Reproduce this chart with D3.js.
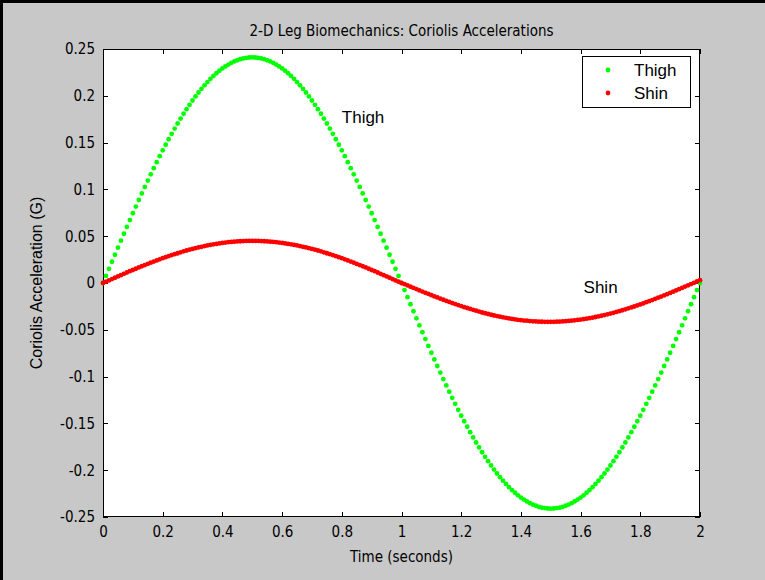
<!DOCTYPE html>
<html><head><meta charset="utf-8">
<script src="https://cdn.jsdelivr.net/npm/d3@7"></script>
<style>
html,body{margin:0;padding:0;background:#c8c8c8;}
svg{display:block;}
</style></head>
<body>
<script>
// ---- data ----
const timeStep = 0.01; // seconds between samples
const thigh = [
0,0.0076,0.0151,0.0227,0.0302,0.0377,0.0452,0.0526,0.0599,0.0672,0.0745,0.0816,0.0887,0.0957,0.1026,0.1094,0.1161,0.1227,0.1291,0.1355,
0.1417,0.1477,0.1536,0.1594,0.1650,0.1704,0.1757,0.1808,0.1857,0.1904,0.1950,0.1993,0.2035,0.2074,0.2112,0.2147,0.2181,0.2212,0.2241,0.2268,
0.2292,0.2314,0.2334,0.2352,0.2367,0.2380,0.2391,0.2399,0.2405,0.2409,0.2410,0.2409,0.2405,0.2399,0.2391,0.2380,0.2367,0.2352,0.2334,0.2314,
0.2292,0.2268,0.2241,0.2212,0.2181,0.2147,0.2112,0.2074,0.2035,0.1993,0.1950,0.1904,0.1857,0.1808,0.1757,0.1704,0.1650,0.1594,0.1536,0.1477,
0.1417,0.1355,0.1291,0.1227,0.1161,0.1094,0.1026,0.0957,0.0887,0.0816,0.0745,0.0672,0.0599,0.0526,0.0452,0.0377,0.0302,0.0227,0.0151,0.0076,
0,-0.0076,-0.0151,-0.0227,-0.0302,-0.0377,-0.0452,-0.0526,-0.0599,-0.0672,-0.0745,-0.0816,-0.0887,-0.0957,-0.1026,-0.1094,-0.1161,-0.1227,-0.1291,-0.1355,
-0.1417,-0.1477,-0.1536,-0.1594,-0.1650,-0.1704,-0.1757,-0.1808,-0.1857,-0.1904,-0.1950,-0.1993,-0.2035,-0.2074,-0.2112,-0.2147,-0.2181,-0.2212,-0.2241,-0.2268,
-0.2292,-0.2314,-0.2334,-0.2352,-0.2367,-0.2380,-0.2391,-0.2399,-0.2405,-0.2409,-0.2410,-0.2409,-0.2405,-0.2399,-0.2391,-0.2380,-0.2367,-0.2352,-0.2334,-0.2314,
-0.2292,-0.2268,-0.2241,-0.2212,-0.2181,-0.2147,-0.2112,-0.2074,-0.2035,-0.1993,-0.1950,-0.1904,-0.1857,-0.1808,-0.1757,-0.1704,-0.1650,-0.1594,-0.1536,-0.1477,
-0.1417,-0.1355,-0.1291,-0.1227,-0.1161,-0.1094,-0.1026,-0.0957,-0.0887,-0.0816,-0.0745,-0.0672,-0.0599,-0.0526,-0.0452,-0.0377,-0.0302,-0.0227,-0.0151,-0.0076,
0];
const shin = [
0,0.0014,0.0028,0.0042,0.0056,0.0070,0.0084,0.0098,0.0112,0.0126,0.0139,0.0152,0.0166,0.0179,0.0192,0.0204,0.0217,0.0229,0.0241,0.0253,
0.0265,0.0276,0.0287,0.0298,0.0308,0.0318,0.0328,0.0338,0.0347,0.0356,0.0364,0.0372,0.0380,0.0387,0.0394,0.0401,0.0407,0.0413,0.0418,0.0423,
0.0428,0.0432,0.0436,0.0439,0.0442,0.0444,0.0446,0.0448,0.0449,0.0450,0.0450,0.0450,0.0449,0.0448,0.0446,0.0444,0.0442,0.0439,0.0436,0.0432,
0.0428,0.0423,0.0418,0.0413,0.0407,0.0401,0.0394,0.0387,0.0380,0.0372,0.0364,0.0356,0.0347,0.0338,0.0328,0.0318,0.0308,0.0298,0.0287,0.0276,
0.0265,0.0253,0.0241,0.0229,0.0217,0.0204,0.0192,0.0179,0.0166,0.0152,0.0139,0.0126,0.0112,0.0098,0.0084,0.0070,0.0056,0.0042,0.0028,0.0014,
0,-0.0013,-0.0026,-0.0039,-0.0053,-0.0065,-0.0079,-0.0092,-0.0105,-0.0117,-0.0130,-0.0143,-0.0154,-0.0167,-0.0179,-0.0190,-0.0202,-0.0214,-0.0225,-0.0236,
-0.0247,-0.0258,-0.0267,-0.0277,-0.0287,-0.0296,-0.0305,-0.0315,-0.0323,-0.0331,-0.0339,-0.0347,-0.0353,-0.0360,-0.0367,-0.0372,-0.0378,-0.0384,-0.0389,-0.0393,
-0.0397,-0.0401,-0.0403,-0.0407,-0.0409,-0.0411,-0.0413,-0.0414,-0.0415,-0.0415,-0.0415,-0.0415,-0.0413,-0.0412,-0.0411,-0.0408,-0.0405,-0.0403,-0.0399,-0.0395,
-0.0391,-0.0387,-0.0381,-0.0376,-0.0370,-0.0363,-0.0357,-0.0350,-0.0343,-0.0335,-0.0327,-0.0319,-0.0309,-0.0301,-0.0291,-0.0281,-0.0271,-0.0261,-0.0251,-0.0240,
-0.0229,-0.0218,-0.0205,-0.0194,-0.0182,-0.0169,-0.0157,-0.0145,-0.0132,-0.0119,-0.0106,-0.0093,-0.0079,-0.0066,-0.0053,-0.0038,-0.0025,-0.0011,0.0002,0.0016,
0.0030];
const xTicks = [0,0.2,0.4,0.6,0.8,1,1.2,1.4,1.6,1.8,2];
const yTicks = [-0.25,-0.2,-0.15,-0.1,-0.05,0,0.05,0.1,0.15,0.2,0.25];
const seriesNames = ["Thigh","Shin"];
const seriesColors = ["#00ff00","#ff0000"];
const annotations = [{text:"Thigh", t:0.8, v:0.177},{text:"Shin", t:1.61, v:-0.004}];
const titleText = "2-D Leg Biomechanics: Coriolis Accelerations";
const xLabel = "Time (seconds)";
const yLabel = "Coriolis Acceleration (G)";

// ---- layout ----
const W = 765, H = 580;
const L = 103, R = 700, T = 49, B = 517;
const tickFont = "'Liberation Sans Narrow','DejaVu Sans Condensed','Liberation Sans',sans-serif";
const textFont = "'Liberation Sans',Arial,sans-serif";
const fmt = d => String(+(+d).toFixed(2)); // plain hyphen minus, as in the original

const svg = d3.select("body").append("svg").attr("width", W).attr("height", H);
svg.append("rect").attr("width", W).attr("height", H).attr("fill", "#c8c8c8");
svg.append("rect").attr("x",0).attr("y",0).attr("width",W).attr("height",3).attr("fill","#000");
svg.append("rect").attr("x",0).attr("y",0).attr("width",3).attr("height",H).attr("fill","#000");

const x = d3.scaleLinear().domain([0,2]).range([L,R]);
const y = d3.scaleLinear().domain([-0.25,0.25]).range([B,T]);

svg.append("rect").attr("x",L).attr("y",T).attr("width",R-L).attr("height",B-T).attr("fill","#fff");

// axes with inward ticks
const tickLen = 5;
const styleAxis = g => {
  g.select(".domain").remove();
  g.selectAll(".tick line").attr("stroke","#000").attr("shape-rendering","crispEdges");
  g.selectAll(".tick text").attr("font-family",tickFont).attr("font-size","15px").attr("fill","#000");
};
svg.append("g").attr("transform",`translate(0,${B})`)
  .call(d3.axisBottom(x).tickValues(xTicks).tickSize(-tickLen).tickPadding(9).tickFormat(fmt))
  .call(styleAxis);
svg.append("g").attr("transform",`translate(0,${T})`)
  .call(d3.axisTop(x).tickValues(xTicks).tickSize(-tickLen).tickFormat(""))
  .call(styleAxis);
svg.append("g").attr("transform",`translate(${L},0)`)
  .call(d3.axisLeft(y).tickValues(yTicks).tickSize(-tickLen).tickPadding(8).tickFormat(fmt))
  .call(styleAxis);
svg.append("g").attr("transform",`translate(${R},0)`)
  .call(d3.axisRight(y).tickValues(yTicks).tickSize(-tickLen).tickFormat(""))
  .call(styleAxis);

svg.append("rect").attr("x",L+0.5).attr("y",T+0.5).attr("width",R-L-1).attr("height",B-T-1)
  .attr("fill","none").attr("stroke","#000").attr("stroke-width",1);

// series
const series = [thigh, shin];
series.forEach((vals,i)=>{
  svg.append("g").selectAll("circle").data(vals).join("circle")
    .attr("cx",(d,j)=>x(j*timeStep)).attr("cy",d=>y(d)).attr("r",2.4)
    .attr("fill",seriesColors[i]);
});

// annotations
svg.append("g").selectAll("text").data(annotations).join("text")
  .attr("x",d=>x(d.t)).attr("y",d=>y(d.v)).attr("dy","0.35em")
  .attr("font-family",textFont).attr("font-size","17px").text(d=>d.text);

// title & labels
svg.append("text").attr("x",(L+R)/2).attr("y",T-13).attr("text-anchor","middle")
  .attr("font-family",tickFont).attr("font-size","15px").text(titleText);
svg.append("text").attr("x",(L+R)/2).attr("y",562).attr("text-anchor","middle")
  .attr("font-family",tickFont).attr("font-size","15px").text(xLabel);
svg.append("text").attr("transform",`translate(42,${(T+B)/2}) rotate(-90)`).attr("text-anchor","middle")
  .attr("font-family",textFont).attr("font-size","16px").attr("fill","#000").text(yLabel);

// legend
const lg = svg.append("g");
lg.append("rect").attr("x",582.5).attr("y",56.5).attr("width",108).attr("height",51)
  .attr("fill","#fff").attr("stroke","#000");
seriesNames.forEach((n,i)=>{
  const cy = 70 + i*23;
  lg.append("circle").attr("cx",608).attr("cy",cy).attr("r",2.4).attr("fill",seriesColors[i]);
  lg.append("text").attr("x",634).attr("y",cy).attr("dy","0.35em")
    .attr("font-family",textFont).attr("font-size","17px").text(n);
});
</script>
</body></html>
